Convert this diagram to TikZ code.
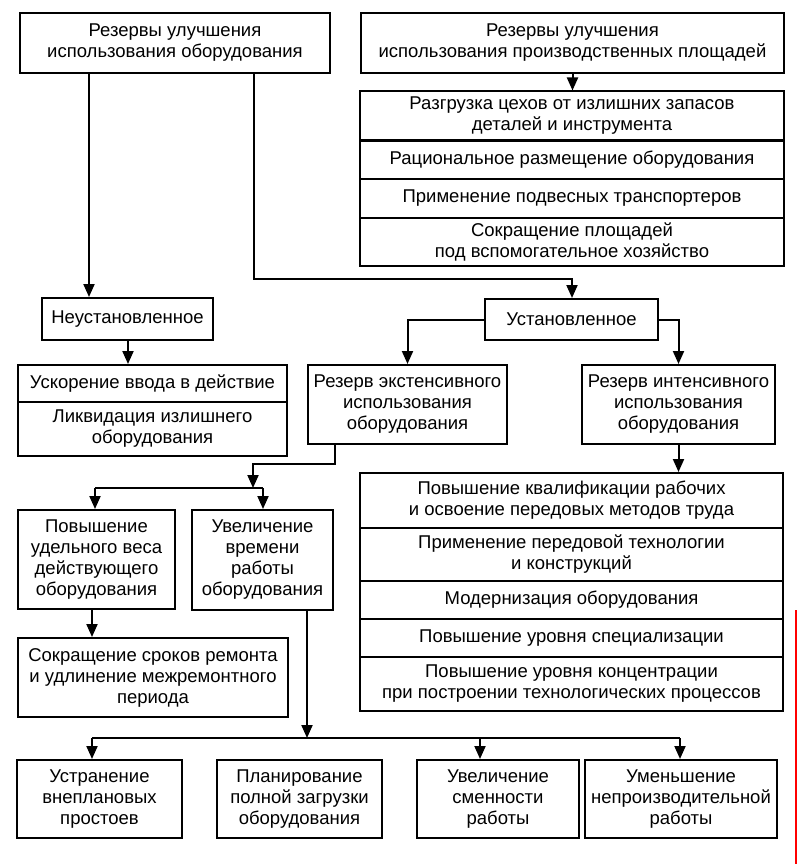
\documentclass[tikz,border=0pt]{standalone}
\usepackage{fontspec}
\setmainfont{Liberation Sans}
\usetikzlibrary{arrows.meta}
\begin{document}
\begin{tikzpicture}[x=1pt,y=-1pt,
  box/.style={draw=black,line width=2pt,align=center,inner sep=0pt,
    font=\fontsize{18.5}{21}\selectfont,text=black},
  conn/.style={draw=black,line width=2pt},
  arr/.style={conn,-{Triangle[width=11pt,length=13pt]}}]
\useasboundingbox (0,0) rectangle (797,864);
% top boxes
\node[box,minimum width=310,minimum height=60] (A) at (175,43) {Резервы улучшения\\использования оборудования};
\node[box,minimum width=423,minimum height=60] (B) at (572.5,43) {Резервы улучшения\\использования производственных площадей};
% stack 1
\node[box,minimum width=424,minimum height=49] (s1a) at (572,116) {Разгрузка цехов от излишних запасов\\деталей и инструмента};
\node[box,minimum width=424,minimum height=39] (s1b) at (572,159.5) {Рациональное размещение оборудования};
\node[box,minimum width=424,minimum height=39] (s1c) at (572,198.5) {Применение подвесных транспортеров};
\node[box,minimum width=424,minimum height=48] (s1d) at (572,242) {Сокращение площадей\\под вспомогательное хозяйство};
% level 2
\node[box,minimum width=171,minimum height=42] (N) at (127.5,319) {Неустановленное};
\node[box,minimum width=173,minimum height=41] (U) at (571.5,319.5) {Установленное};
\node[box,minimum width=269,minimum height=37] (t3a) at (152.5,383.5) {Ускорение ввода в действие};
\node[box,minimum width=269,minimum height=54] (t3b) at (152.5,429) {Ликвидация излишнего\\оборудования};
\node[box,minimum width=199,minimum height=79] (E) at (407.5,404.5) {Резерв экстенсивного\\использования\\оборудования};
\node[box,minimum width=193,minimum height=79] (I) at (678.5,404.5) {Резерв интенсивного\\использования\\оборудования};
% stack 2
\node[box,minimum width=423,minimum height=55] (s2a) at (571.5,500.5) {Повышение квалификации рабочих\\и освоение передовых методов труда};
\node[box,minimum width=423,minimum height=53] (s2b) at (571.5,554.5) {Применение передовой технологии\\и конструкций};
\node[box,minimum width=423,minimum height=38] (s2c) at (571.5,600) {Модернизация оборудования};
\node[box,minimum width=423,minimum height=38] (s2d) at (571.5,638) {Повышение уровня специализации};
\node[box,minimum width=423,minimum height=54] (s2e) at (571.5,684) {Повышение уровня концентрации\\при построении технологических процессов};
% left column
\node[box,minimum width=157,minimum height=99] (P) at (96.5,559.5) {Повышение\\удельного веса\\действующего\\оборудования};
\node[box,minimum width=141,minimum height=100] (V) at (262.5,560) {Увеличение\\времени\\работы\\оборудования};
\node[box,minimum width=270,minimum height=79] (S) at (153,677.5) {Сокращение сроков ремонта\\и удлинение межремонтного\\периода};
% bottom row
\node[box,minimum width=165,minimum height=78] (b1) at (99.5,799) {Устранение\\внеплановых\\простоев};
\node[box,minimum width=165,minimum height=78] (b2) at (299.5,799) {Планирование\\полной загрузки\\оборудования};
\node[box,minimum width=162,minimum height=78] (b3) at (498,799) {Увеличение\\сменности\\работы};
\node[box,minimum width=192,minimum height=78] (b4) at (681,799) {Уменьшение\\непроизводительной\\работы};
% coordinates
\coordinate (aL) at (89,73);
\coordinate (aR) at (254,73);
\coordinate (aRb) at (254,279);
\coordinate (uT) at (572,279);
\coordinate (eB) at (335,444);
\coordinate (eBb) at (335,464);
\coordinate (sp) at (253,464);
\coordinate (spb) at (253,488);
\coordinate (spL) at (95,488);
\coordinate (spR) at (263,488);
\coordinate (vB) at (307,610);
\coordinate (bus) at (307,738);
\coordinate (busL) at (92,738);
\coordinate (busM) at (480,738);
\coordinate (busR) at (680,738);
% connectors
\draw[arr] (B.south) -- (B.south |- s1a.north);
\draw[arr] (aL) -- (aL |- N.north);
\draw[arr] (aR) -- (aRb) -- (uT) -- (uT |- U.north);
\draw[arr] (N.south -| 128,0) -- (128,0 |- t3a.north);
\draw[arr] (U.west) -| (E.north);
\draw[arr] (U.east) -| (I.north);
\draw[arr] (I.south) -- (I.south |- s2a.north);
\draw[arr] (eB) -- (eBb) -- (sp) -- (spb);
\draw[conn] (spL) -- (spR);
\draw[arr] (spL) -- (spL |- P.north);
\draw[arr] (spR) -- (spR |- V.north);
\draw[arr] (P.south -| 92,0) -- (92,0 |- S.north);
\draw[arr] (vB) -- (bus);
\draw[conn] (busL) -- (busR);
\draw[arr] (busL) -- (busL |- b1.north);
\draw[arr] (busM) -- (busM |- b3.north);
\draw[arr] (busR) -- (busR |- b4.north);
% scan artefact at the right edge
\draw[red,line width=1.2pt] (796,610) -- (796,864);
\end{tikzpicture}
\end{document}
